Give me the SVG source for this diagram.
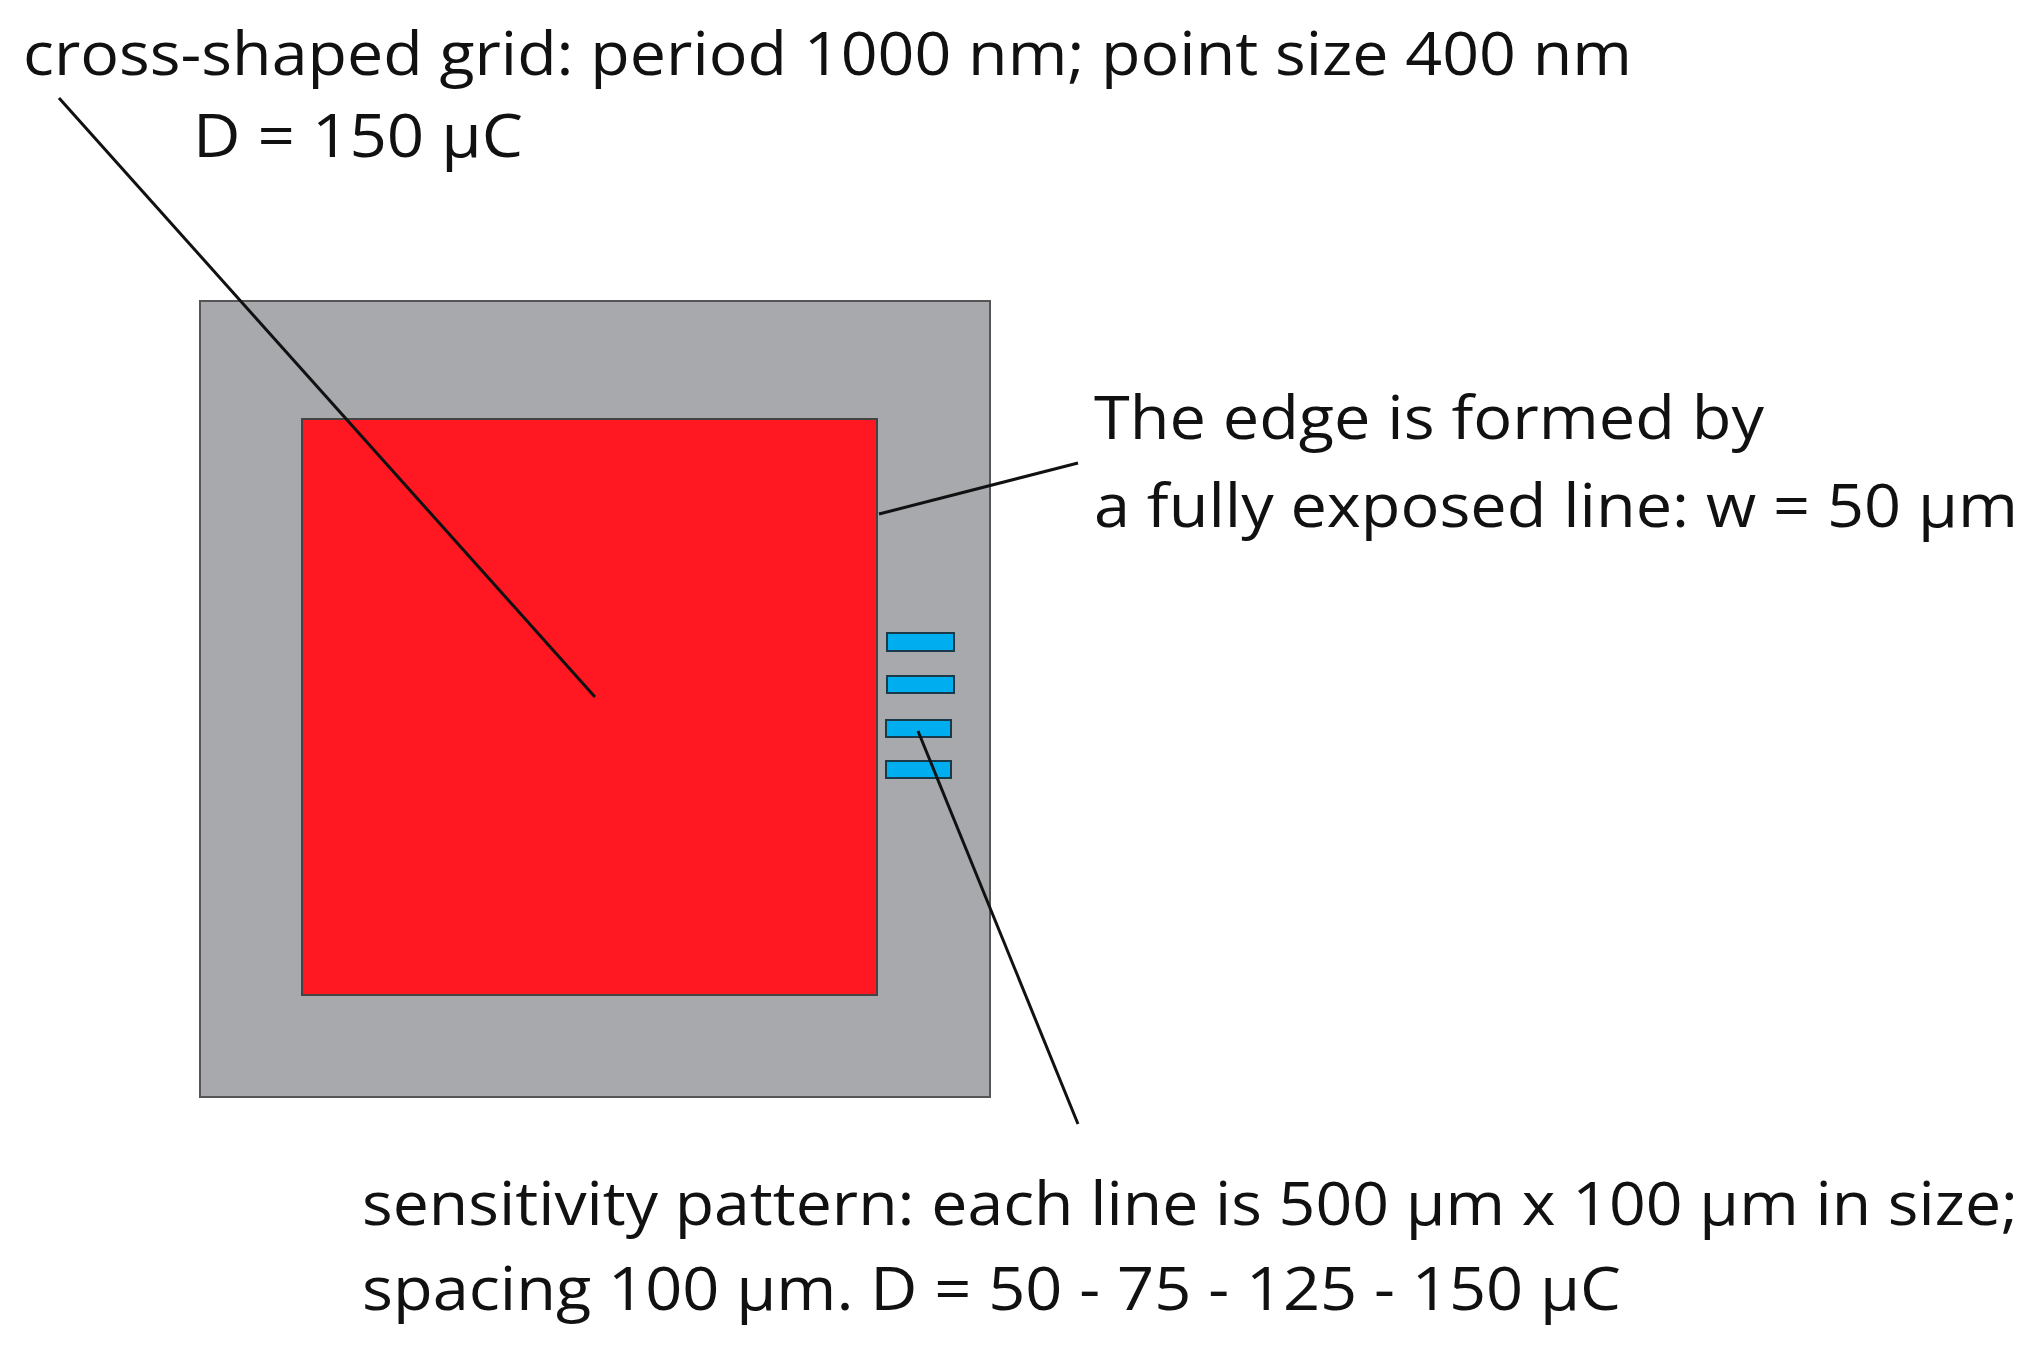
<svg xmlns="http://www.w3.org/2000/svg" width="2043" height="1350" viewBox="0 0 2043 1350">
<style>
text{font-family:"Open Sans","Liberation Sans",sans-serif;font-size:60px;fill:#111}
.c{stroke:#111;stroke-width:3;fill:none}
.b{fill:#00adef;stroke:#1a3a4a;stroke-width:2}
</style>
<rect width="2043" height="1350" fill="#fff"/>
<g id="frame"><rect x="200" y="301" width="790" height="796" fill="#a8a9ad" stroke="#555" stroke-width="2"/></g>
<g id="grid"><rect x="302" y="419" width="575" height="576" fill="#ff1721" stroke="#444" stroke-width="2"/></g>
<g id="pattern">
<rect class="b" x="887" y="633" width="67" height="18"/>
<rect class="b" x="887" y="676" width="67" height="17"/>
<rect class="b" x="886" y="720" width="65" height="17"/>
<rect class="b" x="886" y="761" width="65" height="17"/>
</g>
<g id="connectors">
<line class="c" x1="59" y1="98" x2="595" y2="697"/>
<line class="c" x1="879" y1="514" x2="1078" y2="463"/>
<line class="c" x1="918" y1="731" x2="1078" y2="1124"/>
</g>
<g id="labels">
<text x="23" y="75" textLength="1609" lengthAdjust="spacingAndGlyphs">cross-shaped grid: period 1000 nm; point size 400 nm</text>
<text x="193" y="157" textLength="330" lengthAdjust="spacingAndGlyphs">D = 150 μC</text>
<text x="1094" y="439" textLength="670" lengthAdjust="spacingAndGlyphs">The edge is formed by</text>
<text x="1094" y="527" textLength="924" lengthAdjust="spacingAndGlyphs">a fully exposed line: w = 50 μm</text>
<text x="362" y="1225" textLength="1656" lengthAdjust="spacingAndGlyphs">sensitivity pattern: each line is 500 μm x 100 μm in size;</text>
<text x="362" y="1310" textLength="1259" lengthAdjust="spacingAndGlyphs">spacing 100 μm. D = 50 - 75 - 125 - 150 μC</text>
</g>
</svg>
